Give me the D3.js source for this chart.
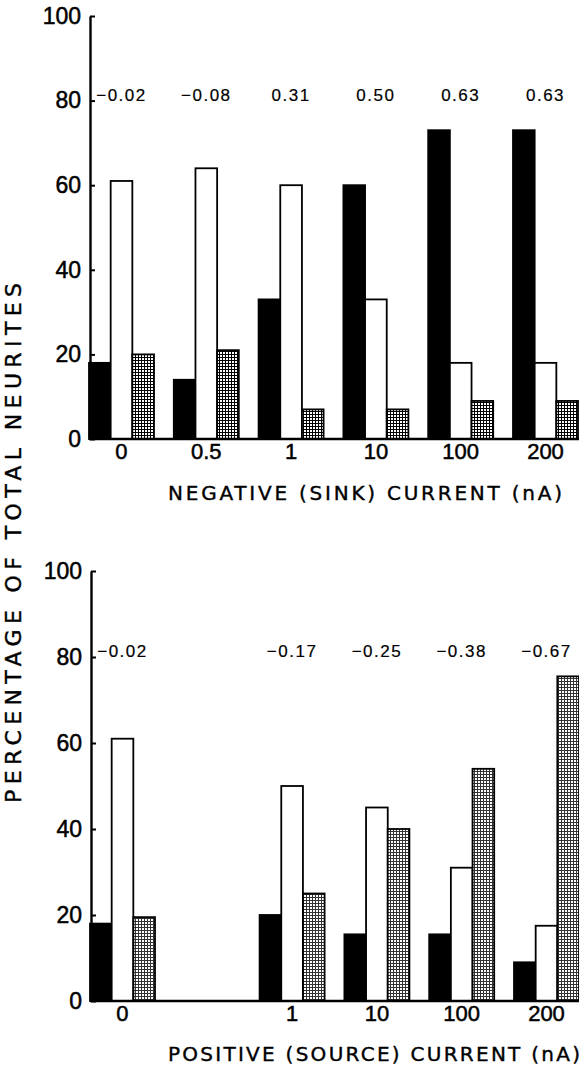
<!DOCTYPE html>
<html>
<head>
<meta charset="utf-8">
<script src="https://cdn.jsdelivr.net/npm/d3@7"></script>
<style>
  body { margin: 0; background: #fff; }
  text { font-family: 'Liberation Sans', Arial, sans-serif; fill: #000; }
  .title { font-family: 'DejaVu Sans', sans-serif; }
</style>
</head>
<body>
<div class="canvas"></div>
<script>
// Data
const currents = ['0', '0.5', '1', '10', '100', '200']
const sinkBlack = [18, 14, 33, 60, 73, 73]
const sinkWhite = [61, 64, 60, 33, 18, 18]
const sinkStipple = [20, 21, 7, 7, 9, 9]
const sinkR = [-0.02, -0.08, 0.31, 0.50, 0.63, 0.63]

const sourceCurrents = ['0', '1', '10', '100', '200']
const sourceBlack = [18, 20, 15.5, 15.5, 9]
const sourceWhite = [61, 50, 45, 31, 17.5]
const sourceStipple = [19.5, 25, 40, 54, 75.5]
const sourceR = [-0.02, -0.17, -0.25, -0.38, -0.67]

const yTicks = [0, 20, 40, 60, 80, 100]
const kinds = ['black', 'white', 'stipple']

const width = 579
const height = 1068

const svg = d3.select('.canvas')
  .append('svg')
  .attr('width', width)
  .attr('height', height)

// Stipple patterns (top darker, bottom lighter)
const defs = svg.append('defs')
const makePattern = (id, ink) => {
  const p = defs.append('pattern')
    .attr('id', id)
    .attr('patternUnits', 'userSpaceOnUse')
    .attr('width', 3)
    .attr('height', 3)
  p.append('rect').attr('width', 3).attr('height', 3).attr('fill', '#fff')
  p.append('rect').attr('width', 1).attr('height', 3).attr('fill', ink)
  p.append('rect').attr('width', 3).attr('height', 1).attr('fill', ink)
}
makePattern('dotsDark', '#000')
makePattern('dotsLight', '#333')

const fmt = d3.format('.2f')

const drawPanel = (opts) => {
  const g = svg.append('g')

  const y = d3.scaleLinear()
    .domain([0, 100])
    .range([opts.yBottom, opts.yTop])

  const x = d3.scaleBand()
    .domain(currents)
    .range([opts.x0, opts.x0 + 489])
    .paddingInner(0.2335)
    .paddingOuter(0)

  const xi = d3.scaleBand()
    .domain(kinds)
    .range([0, x.bandwidth()])

  const rows = opts.cats.map((c, i) => ({
    c: c,
    black: opts.black[i],
    white: opts.white[i],
    stipple: opts.stipple[i],
    r: opts.r[i]
  }))

  const bars = []
  rows.forEach(row => {
    kinds.forEach(k => bars.push({ c: row.c, k: k, v: row[k] }))
  })

  g.selectAll('rect.bar')
    .data(bars)
    .enter()
    .append('rect')
    .attr('class', 'bar')
    .attr('x', d => x(d.c) + xi(d.k))
    .attr('y', d => y(d.v))
    .attr('width', xi.bandwidth())
    .attr('height', d => y(0) - y(d.v))
    .attr('fill', d => d.k === 'black' ? '#000' : d.k === 'white' ? '#fff' : `url(#${opts.pattern})`)
    .attr('stroke', '#000')
    .attr('stroke-width', 1.8)

  // Baseline
  g.append('line')
    .attr('x1', opts.x0)
    .attr('x2', width)
    .attr('y1', y(0))
    .attr('y2', y(0))
    .attr('stroke', '#000')
    .attr('stroke-width', 2.4)

  // Y axis
  const yAxis = d3.axisLeft(y)
    .tickValues(yTicks)
    .tickSizeInner(-5)
    .tickSizeOuter(0)
    .tickPadding(9)
  const yAxisGroup = g.append('g')
    .attr('transform', `translate(${opts.x0 + 1}, 0)`)
    .call(yAxis)
  yAxisGroup.select('.domain').attr('stroke-width', 2.4)
  yAxisGroup.selectAll('.tick line').attr('stroke-width', 2)
  yAxisGroup.selectAll('text')
    .attr('font-size', 23)
    .attr('font-family', "'Liberation Sans', Arial, sans-serif")
    .attr('stroke', '#000')
    .attr('stroke-width', 0.5)

  // X axis labels
  const xAxis = d3.axisBottom(x)
    .tickValues(opts.cats)
    .tickSize(0)
    .tickPadding(4)
  const xAxisGroup = g.append('g')
    .attr('transform', `translate(0, ${y(0)})`)
    .call(xAxis)
  xAxisGroup.select('.domain').remove()
  xAxisGroup.selectAll('text')
    .attr('font-size', 22)
    .attr('font-family', "'Liberation Sans', Arial, sans-serif")
    .attr('stroke', '#000')
    .attr('stroke-width', 0.5)

  // Correlation labels
  g.selectAll('text.corr')
    .data(rows)
    .enter()
    .append('text')
    .attr('class', 'corr')
    .attr('x', d => x(d.c) + x.bandwidth() / 2)
    .attr('y', y(80))
    .attr('text-anchor', 'middle')
    .attr('font-size', 17)
    .attr('letter-spacing', 1.5)
    .attr('stroke', '#000')
    .attr('stroke-width', 0.2)
    .text(d => fmt(d.r))

  // X title
  g.append('text')
    .attr('class', 'title')
    .attr('x', opts.titleX)
    .attr('y', opts.titleY)
    .attr('font-size', 20)
    .attr('stroke', '#000')
    .attr('stroke-width', 0.4)
    .attr('textLength', opts.titleLen)
    .attr('lengthAdjust', 'spacing')
    .text(opts.title)
}

drawPanel({
  cats: currents,
  black: sinkBlack,
  white: sinkWhite,
  stipple: sinkStipple,
  r: sinkR,
  x0: 89,
  yTop: 16,
  yBottom: 439,
  pattern: 'dotsDark',
  title: 'NEGATIVE (SINK) CURRENT (nA)',
  titleX: 168,
  titleY: 500,
  titleLen: 394
})

drawPanel({
  cats: sourceCurrents,
  black: sourceBlack,
  white: sourceWhite,
  stipple: sourceStipple,
  r: sourceR,
  x0: 90,
  yTop: 571,
  yBottom: 1001,
  pattern: 'dotsLight',
  title: 'POSITIVE (SOURCE) CURRENT (nA)',
  titleX: 168,
  titleY: 1061,
  titleLen: 412
})

// Shared y title
svg.append('text')
  .attr('class', 'title')
  .attr('transform', 'translate(21, 543) rotate(-90)')
  .attr('text-anchor', 'middle')
  .attr('font-size', 22)
  .attr('stroke', '#000')
  .attr('stroke-width', 0.4)
  .attr('textLength', 520)
  .attr('lengthAdjust', 'spacing')
  .text('PERCENTAGE OF TOTAL NEURITES')
</script>
</body>
</html>
